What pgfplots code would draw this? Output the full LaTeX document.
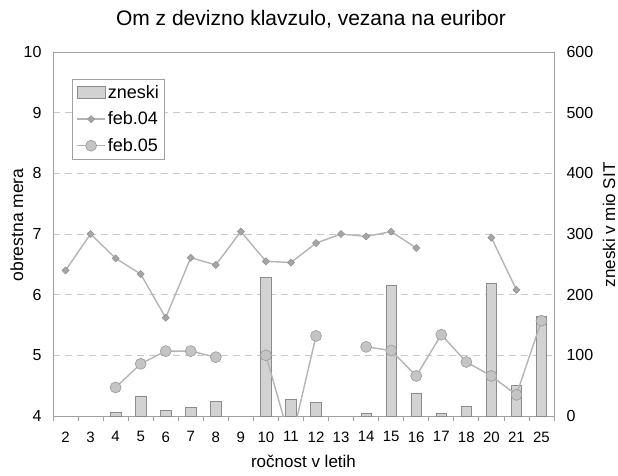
\documentclass[border=0pt]{standalone}
\usepackage{pgfplots}
\pgfplotsset{compat=1.18}
\usepackage{fontspec}
\setmainfont{Liberation Sans}
\definecolor{barfill}{HTML}{D2D2D2}
\definecolor{baredge}{HTML}{8C8C8C}
\definecolor{linegray}{HTML}{B4B4B4}
\definecolor{diafill}{HTML}{A6A6A6}
\definecolor{diaedge}{HTML}{8C8C8C}
\definecolor{circfill}{HTML}{C4C4C4}
\definecolor{circedge}{HTML}{9A9A9A}
\definecolor{framegray}{HTML}{A0A0A0}
\definecolor{gridgray}{HTML}{C8C8C8}
\begin{document}
\begin{tikzpicture}
\useasboundingbox (-53pt,-59pt) rectangle (565pt,416pt);
% ---------- bars (right axis) ----------
\begin{axis}[
  scale only axis, width=501pt, height=364pt,
  xmin=-0.5, xmax=19.5, ymin=0, ymax=600,
  ytick={0,100,...,600},
  yticklabel pos=right,
  xtick={0,...,19},
  xticklabels={2,3,4,5,6,7,8,9,10,11,12,13,14,15,16,17,18,20,21,25},
  minor xtick={-0.5,0.5,...,19.5},
  major tick length=0pt, minor tick length=5pt,
  tick align=outside, xtick pos=left,
  tick style={draw=framegray, line width=0.8pt},
  ytick style={draw=none},
  axis line style={draw=framegray, line width=0.9pt},
  ymajorgrids, grid style={draw=gridgray, dash pattern=on 7pt off 5pt, line width=0.8pt},
  /pgf/number format/assume math mode=true,
  xticklabel style={font=\fontsize{15}{18}\selectfont, yshift=-12pt},
  yticklabel style={font=\fontsize{16}{19}\selectfont, xshift=9pt},
  ylabel={zneski v mio SIT},
  every axis y label/.style={at={(axis description cs:1.1098,0.525)}, rotate=90, anchor=center, font=\fontsize{17}{20}\selectfont},
  xlabel={ročnost v letih},
  every axis x label/.style={at={(axis description cs:0.5,-0.124)}, anchor=center, font=\fontsize{17}{20}\selectfont},
  title={Om z devizno klavzulo, vezana na euribor},
  every axis title/.style={at={(axis description cs:0.515,1.09)}, anchor=center, font=\fontsize{21}{24}\selectfont},
]
\addplot[ybar, bar width=10.5pt, fill=barfill, draw=baredge, line width=0.7pt] coordinates {
  (2,6) (3,33) (4,9) (5,14) (6,24) (8,228) (9,28) (10,23) (12,5)
  (13,216) (14,38) (15,5) (16,16) (17,219) (18,50) (19,165)
};
\end{axis}
% ---------- lines (left axis) ----------
\begin{axis}[
  scale only axis, width=501pt, height=364pt,
  xmin=-0.5, xmax=19.5, ymin=4, ymax=10,
  ytick={4,...,10},
  hide x axis,
  axis y line*=left,
  ytick style={draw=none},
  axis line style={draw=framegray, line width=0.9pt},
  /pgf/number format/assume math mode=true,
  yticklabel style={font=\fontsize{16}{19}\selectfont, xshift=-8pt},
  ylabel={obrestna mera},
  every axis y label/.style={at={(axis description cs:-0.0719,0.525)}, rotate=90, anchor=center, font=\fontsize{17.5}{20}\selectfont},
  unbounded coords=jump,
  legend style={at={(axis description cs:0.0379,0.926)}, anchor=north west,
    draw=framegray, line width=0.8pt, font=\fontsize{18}{21}\selectfont,
    inner xsep=4pt, inner ysep=4pt, row sep=8pt,
    legend cell align=left},
  legend image code/.code={\draw[mark repeat=2,mark phase=2] plot coordinates {(0pt,0pt)(14pt,0pt)(28pt,0pt)};},
]
\addlegendimage{legend image code/.code={\draw[fill=barfill, draw=baredge, line width=0.7pt] (0pt,-6pt) rectangle (28pt,6pt);}}
\addlegendentry{zneski}
\addplot[draw=linegray, line width=1.4pt, mark=square*, mark size=2.5pt,
  mark options={rotate=45, fill=diafill, draw=diaedge, line width=0.5pt}] coordinates {
  (0,6.40) (1,7.00) (2,6.60) (3,6.34) (4,5.62) (5,6.61) (6,6.49) (7,7.04)
  (8,6.55) (9,6.53) (10,6.85) (11,7.00) (12,6.96) (13,7.04) (14,6.77)
  (15,nan) (16,nan) (17,6.94) (18,6.08)
};
\addlegendentry{feb.04}
\addplot[draw=linegray, line width=1.4pt, mark=*, mark size=5.5pt,
  mark options={fill=circfill, draw=circedge, line width=0.6pt}] coordinates {
  (2,4.47) (3,4.86) (4,5.07) (5,5.07) (6,4.97) (7,nan) (8,5.00) (9,3.55)
  (10,5.32) (11,nan) (12,5.14) (13,5.08) (14,4.66) (15,5.34) (16,4.89)
  (17,4.66) (18,4.35) (19,5.57)
};
\addlegendentry{feb.05}
\end{axis}
\end{tikzpicture}
\end{document}
